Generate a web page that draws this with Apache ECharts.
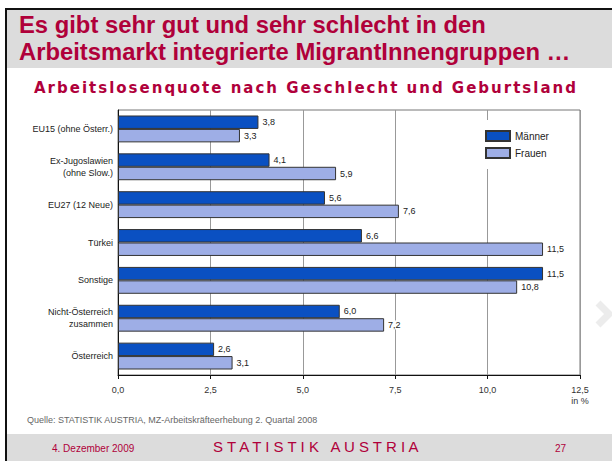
<!DOCTYPE html>
<html>
<head>
<meta charset="utf-8">
<script src="https://cdn.jsdelivr.net/npm/echarts@6/dist/echarts.min.js"></script>
<style>
  html, body { margin: 0; padding: 0; background: #fff; }
  #chart { width: 612px; height: 461px; }
  /* Untertitel ist im Original gesperrt gesetzt */
  #chart text[fill="#b0003b"] { letter-spacing: 2px; }
</style>
</head>
<body>
<div id="chart"></div>
<script>
var categories = ['EU15 (ohne Österr.)', 'Ex-Jugoslawien\n(ohne Slow.)', 'EU27 (12 Neue)', 'Türkei',
    'Sonstige', 'Nicht-Österreich\nzusammen', 'Österreich'];
var maenner = [3.8, 4.1, 5.6, 6.6, 11.5, 6.0, 2.6];
var frauen = [3.3, 5.9, 7.6, 11.5, 10.8, 7.2, 3.1];
var xTicks = [0, 2.5, 5, 7.5, 10, 12.5];

var crimson = '#b0003a';

function komma(v) {
    return v.toFixed(1).replace('.', ',');
}

var chart = echarts.init(document.getElementById('chart'), null, { renderer: 'svg' });

var labelStyle = {
    show: true,
    position: 'right',
    distance: 3,
    fontFamily: 'Liberation Sans',
    fontSize: 9,
    color: '#222',
    backgroundColor: '#fff',
    padding: [0, 1],
    formatter: function (p) { return komma(p.value); }
};

chart.setOption({
    animation: false,
    backgroundColor: '#fff',
    graphic: [
        // slide frame + header / footer bands
        { type: 'rect', shape: { x: 5, y: 8, width: 607, height: 453 }, style: { fill: '#111' }, z: -10 },
        { type: 'rect', shape: { x: 7, y: 10, width: 605, height: 451 }, style: { fill: '#fff' }, z: -9 },
        { type: 'rect', shape: { x: 7, y: 10, width: 605, height: 58 }, style: { fill: '#dcdcdc' }, z: -8 },
        { type: 'rect', shape: { x: 7, y: 434, width: 605, height: 27 }, style: { fill: '#dcdcdc' }, z: -8 },
        {
            type: 'text', left: 19, top: 11,
            style: {
                text: 'Es gibt sehr gut und sehr schlecht in den\nArbeitsmarkt integrierte MigrantInnengruppen …',
                fill: crimson, fontFamily: 'Liberation Sans', fontWeight: 'bold', fontSize: 23.8, lineHeight: 27
            }
        },
        {
            type: 'text', left: 34, top: 80,
            style: {
                text: 'Arbeitslosenquote nach Geschlecht und Geburtsland',
                fill: '#b0003b', fontFamily: 'DejaVu Sans', fontWeight: 'bold', fontSize: 15
            }
        },
        {
            type: 'text', left: 27, top: 415,
            style: {
                text: 'Quelle: STATISTIK AUSTRIA, MZ-Arbeitskräfteerhebung 2. Quartal 2008',
                fill: '#666', fontFamily: 'Liberation Sans', fontSize: 9
            }
        },
        {
            type: 'text', left: 52, top: 443,
            style: { text: '4. Dezember 2009', fill: crimson, fontFamily: 'Liberation Sans', fontSize: 10 }
        },
        {
            type: 'text', left: 213, top: 439,
            style: { text: 'S T A T I S T I K   A U S T R I A', fill: crimson, fontFamily: 'Liberation Sans', fontSize: 15 }
        },
        {
            type: 'text', left: 555, top: 443,
            style: { text: '27', fill: crimson, fontFamily: 'Liberation Sans', fontSize: 10 }
        },
        {
            type: 'polyline', shape: { points: [[598, 303], [609, 314], [598, 325]] },
            style: { stroke: '#ececec', lineWidth: 7, fill: null }
        }
    ],
    legend: {
        orient: 'vertical',
        left: 480,
        top: 120,
        padding: [10, 5, 10, 5],
        backgroundColor: '#fff',
        itemWidth: 24,
        itemHeight: 10,
        itemGap: 5,
        icon: 'rect',
        textStyle: { fontFamily: 'Liberation Sans', fontSize: 10, color: '#222' },
        data: ['Männer', 'Frauen']
    },
    grid: {
        left: 118, right: 32, top: 110, bottom: 86,
        show: true, borderColor: '#777', borderWidth: 1
    },
    xAxis: {
        type: 'value',
        min: 0, max: 12.5, interval: 2.5,
        axisLine: { show: true, lineStyle: { color: '#111', width: 1 } },
        axisTick: { show: true, length: 4, lineStyle: { color: '#111' } },
        splitLine: { show: true, lineStyle: { color: '#999', width: 1 } },
        axisLabel: {
            fontFamily: 'Liberation Sans', fontSize: 9, color: '#333', margin: 9, lineHeight: 11,
            formatter: function (v) {
                var s = komma(v);
                if (v === xTicks[xTicks.length - 1]) s += '\nin %';
                return s;
            }
        }
    },
    yAxis: {
        type: 'category',
        inverse: true,
        data: categories,
        axisLine: { show: true, lineStyle: { color: '#111' } },
        axisTick: { show: false },
        axisLabel: { fontFamily: 'Liberation Sans', fontSize: 9, color: '#222', margin: 5, lineHeight: 12 }
    },
    series: [
        {
            name: 'Männer', type: 'bar', data: maenner,
            barGap: '0%', barCategoryGap: '29%',
            itemStyle: { color: '#0a50c2', borderColor: '#333', borderWidth: 1 },
            label: labelStyle
        },
        {
            name: 'Frauen', type: 'bar', data: frauen,
            itemStyle: { color: '#9eaee6', borderColor: '#333', borderWidth: 1 },
            label: labelStyle
        }
    ]
});
</script>
</body>
</html>
